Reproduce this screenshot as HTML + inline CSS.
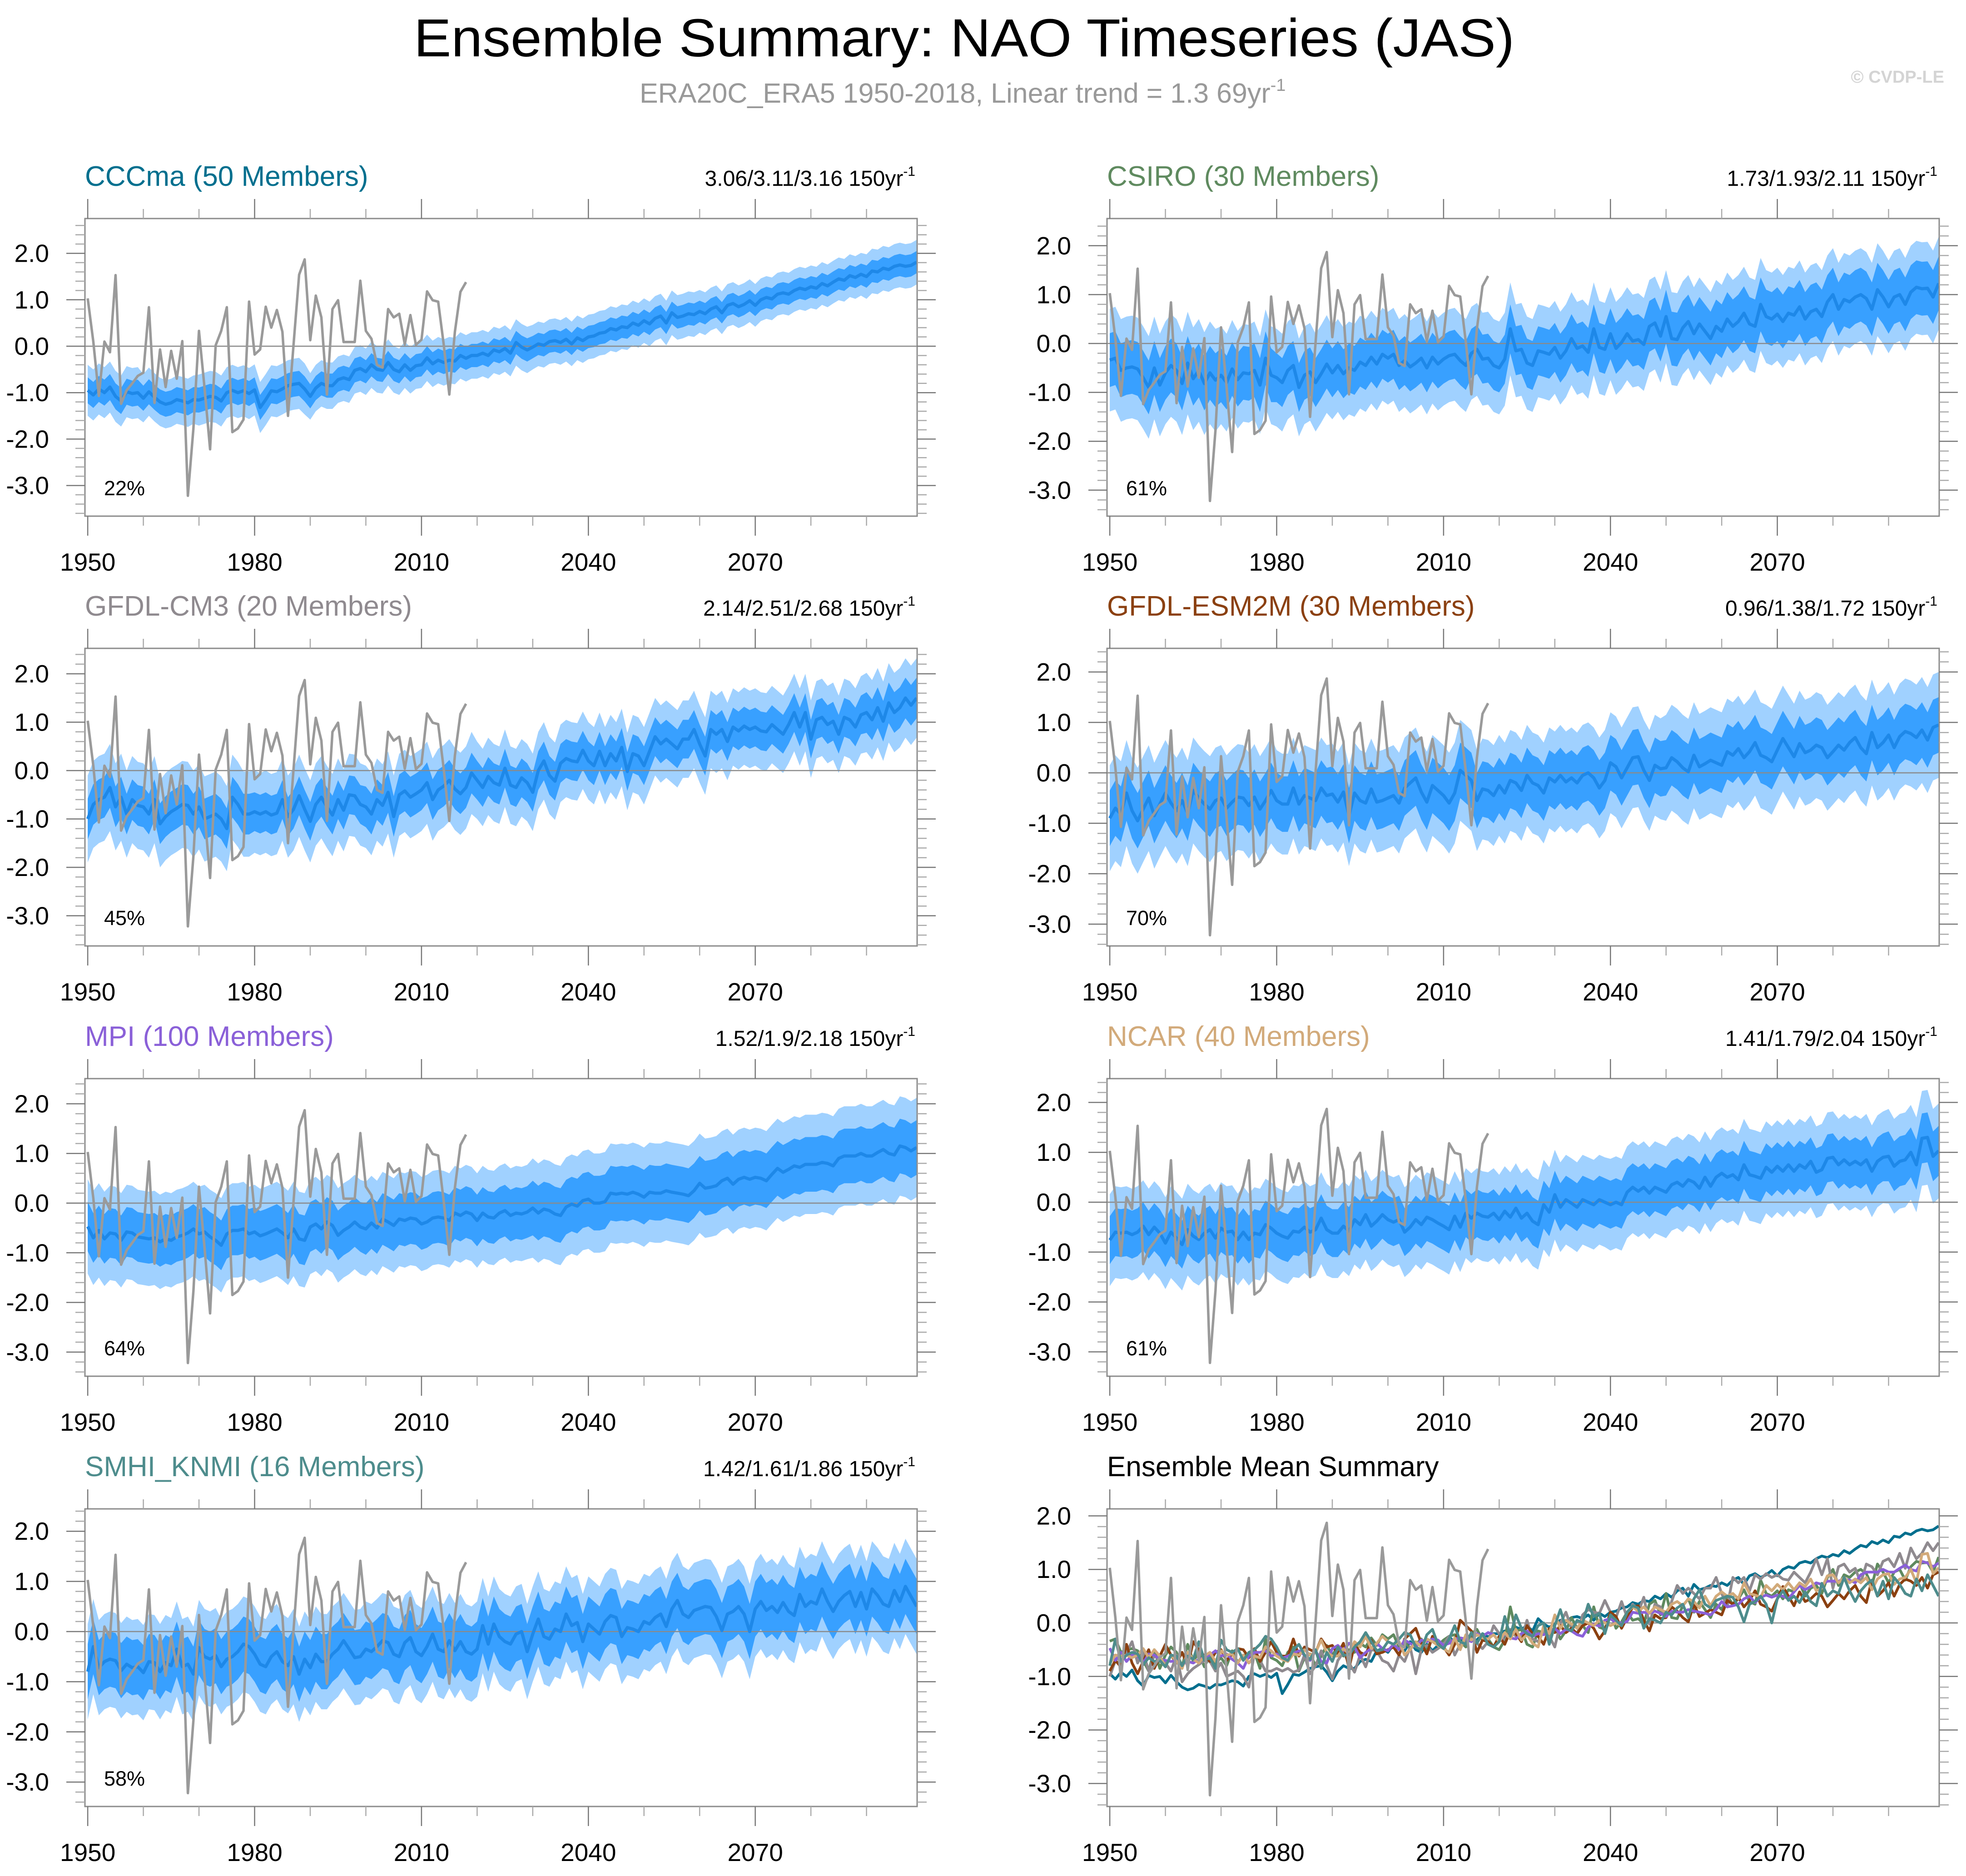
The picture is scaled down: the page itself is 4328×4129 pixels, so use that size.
<!DOCTYPE html>
<html><head><meta charset="utf-8"><title>Ensemble Summary: NAO Timeseries (JAS)</title>
<style>
html,body{margin:0;padding:0;background:#fff;}
svg{display:block;font-family:"Liberation Sans",Arial,sans-serif;}
</style></head>
<body>
<svg id="fig" xmlns="http://www.w3.org/2000/svg" width="4328" height="4129" viewBox="0 0 4328 4129">
<rect x="0" y="0" width="4328" height="4129" fill="#fff"/>
<text x="911" y="124" font-size="118" textLength="2423" lengthAdjust="spacingAndGlyphs" fill="#000">Ensemble Summary: NAO Timeseries (JAS)</text>
<text x="1408" y="226" font-size="61" fill="#999">ERA20C_ERA5 1950-2018, Linear trend = 1.3 69yr<tspan font-size="38" dy="-26">-1</tspan></text>
<text x="4280" y="182" font-size="38" font-weight="bold" fill="#d4d4d4" text-anchor="end">© CVDP-LE</text>
<g id="panels"></g>
</svg>
<script>
// ---------- DATA ----------
const obsYears0 = 1950;
const obsValues = [1.03,0.1,-1.07,0.1,-0.13,1.53,-1.24,-0.95,-0.8,-0.64,
-0.57,0.84,-1.22,-0.07,-0.88,-0.1,-0.7,0.11,-3.22,-1.77,
0.33,-0.9,-2.22,0.02,0.33,0.84,-1.85,-1.77,-1.58,0.96,
-0.18,-0.07,0.85,0.4,0.78,0.31,-1.5,0.03,1.54,1.87,
0.13,1.09,0.62,-1.04,0.8,0.99,0.09,0.09,0.09,1.41,
0.33,0.16,-0.4,-0.46,0.8,0.62,0.7,0.04,0.67,0.03,
0.14,1.18,0.99,0.96,0.03,-1.04,0.31,1.17,1.38];

const modelYear0 = 1950;
const meanCCCma = [-0.95,-1.05,-0.92,-1.0,-0.88,-1.08,-1.18,-0.98,-1.02,-1.0,
-1.12,-0.98,-1.1,-1.2,-1.25,-1.22,-1.15,-1.18,-1.22,-1.15,
-1.16,-1.12,-1.08,-1.1,-1.18,-1.0,-0.95,-1.0,-0.96,-1.02,
-0.94,-1.32,-1.15,-0.96,-0.98,-0.92,-0.85,-0.82,-0.8,-0.92,
-1.08,-0.9,-0.8,-0.85,-0.85,-0.72,-0.68,-0.72,-0.52,-0.48,
-0.55,-0.4,-0.5,-0.52,-0.35,-0.5,-0.55,-0.4,-0.52,-0.42,
-0.4,-0.25,-0.38,-0.3,-0.35,-0.3,-0.32,-0.2,-0.26,-0.2,
-0.2,-0.15,-0.2,-0.08,-0.12,-0.05,-0.15,0.08,-0.02,-0.08,
-0.02,0.05,0.02,0.1,0.12,0.08,0.15,0.05,0.18,0.12,
0.2,0.22,0.28,0.3,0.38,0.35,0.42,0.4,0.5,0.45,
0.55,0.48,0.6,0.65,0.5,0.72,0.62,0.65,0.7,0.68,
0.75,0.7,0.8,0.85,0.72,0.88,0.92,0.85,0.9,0.98,
0.88,1.0,1.05,1.02,1.12,1.15,1.12,1.2,1.25,1.22,
1.28,1.25,1.35,1.3,1.38,1.45,1.42,1.52,1.48,1.55,
1.5,1.62,1.6,1.68,1.65,1.72,1.75,1.72,1.74,1.81];
const meanCSIRO = [-0.34,-0.3,-0.55,-0.5,-0.48,-0.52,-0.7,-0.9,-0.5,-0.85,
-0.6,-0.45,-0.55,-0.82,-0.4,-0.72,-0.55,-0.82,-0.6,-0.75,
-0.65,-0.8,-0.52,-0.74,-0.6,-0.62,-0.55,-0.85,-0.3,-0.65,
-0.7,-0.8,-0.55,-0.45,-0.9,-0.65,-0.58,-0.8,-0.62,-0.42,
-0.6,-0.45,-0.62,-0.5,-0.55,-0.38,-0.45,-0.28,-0.42,-0.22,
-0.3,-0.22,-0.45,-0.35,-0.48,-0.4,-0.3,-0.5,-0.28,-0.42,
-0.32,-0.25,-0.22,-0.35,-0.45,-0.2,-0.12,-0.32,-0.3,-0.45,
-0.5,-0.32,0.3,-0.15,-0.12,-0.4,-0.45,-0.15,-0.18,-0.22,
-0.08,-0.3,-0.15,0.1,-0.1,-0.05,-0.18,0.3,-0.08,-0.12,
0.2,-0.1,0.02,0.2,0.05,0.08,-0.02,0.35,0.42,0.15,
0.55,0.1,0.08,0.32,0.45,0.2,0.4,0.25,0.1,0.35,
0.25,0.5,0.35,0.45,0.62,0.4,0.35,0.8,0.55,0.5,
0.6,0.45,0.62,0.58,0.75,0.5,0.65,0.7,0.55,0.85,
1.0,0.7,0.9,0.85,0.95,1.0,0.92,0.7,1.1,0.95,
0.75,0.95,1.0,0.8,1.05,1.15,1.12,1.13,0.95,1.23];
const meanGFDLCM3 = [-1.0,-0.7,-0.6,-0.55,-0.35,-0.75,-0.55,-0.9,-0.6,-0.72,
-0.75,-0.9,-0.6,-1.1,-0.95,-0.85,-0.78,-0.7,-0.72,-0.9,
-0.75,-1.0,-0.95,-0.9,-1.0,-1.2,-0.55,-0.7,-0.9,-0.9,
-0.85,-0.9,-0.85,-0.92,-0.88,-0.6,-0.95,-0.8,-0.52,-0.8,
-1.05,-0.7,-0.55,-0.75,-0.92,-0.6,-0.82,-0.5,-0.52,-0.7,
-0.75,-0.9,-0.6,-0.72,-0.45,-0.95,-0.5,-0.42,-0.55,-0.48,
-0.4,-0.25,-0.6,-0.4,-0.32,-0.2,-0.38,-0.48,-0.35,-0.05,
-0.2,-0.35,-0.12,-0.25,-0.3,0.05,-0.3,-0.35,-0.15,-0.25,
-0.45,0.0,0.2,-0.1,-0.22,0.15,0.25,0.2,0.18,0.42,
0.2,0.1,0.4,0.1,0.35,0.2,0.48,-0.02,0.35,0.3,
0.1,0.4,0.7,0.55,0.65,0.55,0.45,0.65,0.65,0.85,
0.55,0.3,0.85,0.75,0.85,0.6,0.9,0.82,0.92,0.85,
0.9,0.82,0.8,0.95,0.85,0.75,0.95,1.2,0.9,1.2,
0.65,1.05,1.1,0.95,1.02,0.75,1.1,1.05,0.9,1.15,
1.2,1.05,1.3,1.02,1.4,1.2,1.3,1.5,1.35,1.5];
const meanGFDLESM2M = [-0.9,-0.7,-0.82,-0.4,-0.75,-0.95,-0.72,-0.5,-0.85,-0.62,
-0.4,-0.6,-0.75,-0.55,-0.8,-0.35,-0.5,-0.62,-0.72,-0.55,
-0.5,-0.7,-0.58,-0.48,-0.5,-0.65,-0.48,-0.72,-0.55,-0.35,
-0.55,-0.62,-0.62,-0.3,-0.62,-0.45,-0.5,-0.55,-0.3,-0.45,
-0.42,-0.58,-0.38,-0.85,-0.4,-0.55,-0.6,-0.32,-0.58,-0.55,
-0.5,-0.45,-0.6,-0.3,-0.2,-0.1,-0.38,-0.58,-0.25,-0.35,
-0.45,-0.6,-0.4,0.05,-0.05,-0.15,-0.55,-0.32,-0.35,-0.45,
-0.25,-0.4,-0.15,-0.2,-0.35,-0.05,-0.2,-0.25,-0.4,-0.1,
-0.18,-0.05,-0.18,-0.1,-0.2,-0.05,0.0,-0.1,-0.3,-0.15,
0.2,0.12,-0.1,0.1,0.3,0.32,0.05,-0.15,0.15,0.08,
0.1,0.3,0.22,0.1,0.02,0.35,0.12,0.18,0.25,0.2,
0.15,0.42,0.35,0.48,0.3,0.42,0.6,0.35,0.3,0.22,
0.45,0.68,0.5,0.32,0.58,0.4,0.45,0.55,0.5,0.3,
0.42,0.55,0.45,0.6,0.7,0.5,0.38,0.8,0.5,0.6,
0.75,0.5,0.72,0.82,0.78,0.7,0.85,0.65,0.9,0.95];
const meanMPI = [-0.47,-0.7,-0.55,-0.72,-0.6,-0.62,-0.75,-0.58,-0.6,-0.68,
-0.7,-0.72,-0.7,-0.78,-0.72,-0.75,-0.68,-0.65,-0.6,-0.52,
-0.62,-0.58,-0.68,-0.75,-0.85,-0.62,-0.55,-0.55,-0.52,-0.62,
-0.58,-0.66,-0.62,-0.57,-0.52,-0.6,-0.7,-0.52,-0.72,-0.75,
-0.48,-0.42,-0.52,-0.38,-0.45,-0.65,-0.55,-0.48,-0.38,-0.48,
-0.52,-0.4,-0.5,-0.32,-0.38,-0.45,-0.32,-0.35,-0.3,-0.32,
-0.42,-0.38,-0.3,-0.28,-0.3,-0.35,-0.2,-0.25,-0.18,-0.22,
-0.35,-0.2,-0.28,-0.3,-0.2,-0.15,-0.25,-0.2,-0.22,-0.18,
-0.1,-0.2,-0.12,-0.15,-0.22,-0.25,-0.08,-0.02,-0.06,0.05,
0.08,0.0,0.0,0.03,0.2,0.18,0.2,0.18,0.22,0.18,
0.12,0.22,0.2,0.2,0.25,0.22,0.2,0.18,0.15,0.25,
0.4,0.3,0.32,0.35,0.45,0.5,0.38,0.48,0.52,0.48,
0.52,0.5,0.45,0.58,0.7,0.62,0.68,0.75,0.72,0.78,
0.78,0.78,0.82,0.8,0.75,0.9,0.95,0.95,0.95,1.0,
0.95,0.95,1.02,1.08,1.0,0.97,1.15,1.12,1.05,1.12];
const meanNCAR = [-0.76,-0.6,-0.62,-0.6,-0.65,-0.6,-0.48,-0.65,-0.5,-0.62,
-0.82,-0.6,-0.72,-0.85,-0.55,-0.68,-0.75,-0.62,-0.55,-0.72,
-0.52,-0.6,-0.58,-0.75,-0.6,-0.75,-0.62,-0.65,-0.45,-0.52,
-0.62,-0.68,-0.72,-0.58,-0.6,-0.5,-0.6,-0.55,-0.32,-0.55,
-0.62,-0.62,-0.48,-0.58,-0.35,-0.45,-0.25,-0.48,-0.38,-0.25,
-0.35,-0.4,-0.35,-0.6,-0.5,-0.35,-0.45,-0.3,-0.35,-0.42,
-0.48,-0.55,-0.28,-0.5,-0.22,-0.32,-0.22,-0.28,-0.3,-0.22,
-0.35,-0.18,-0.3,-0.12,-0.32,-0.22,-0.38,-0.45,-0.05,-0.2,
0.15,-0.1,0.05,-0.02,-0.1,0.05,0.0,-0.05,0.05,0.0,
-0.05,0.0,-0.05,0.2,0.3,0.22,0.3,0.18,0.3,0.25,
0.2,0.35,0.4,0.32,0.45,0.4,0.28,0.5,0.32,0.5,
0.58,0.5,0.55,0.45,0.75,0.55,0.52,0.48,0.7,0.6,
0.72,0.62,0.75,0.62,0.75,0.68,0.82,0.6,0.65,0.88,
0.9,0.75,0.85,0.75,0.82,0.75,0.85,0.62,0.82,0.9,
0.92,0.72,0.82,0.85,1.0,0.75,1.28,1.3,0.92,1.03];
const meanSMHI = [-0.8,-0.3,-0.72,-0.6,-0.55,-0.58,-0.78,-0.65,-0.72,-0.7,
-0.82,-0.6,-0.62,-0.8,-0.62,-0.68,-0.35,-0.7,-0.65,-0.85,
-0.32,-0.5,-0.55,-0.48,-0.7,-0.55,-0.5,-0.4,-0.25,-0.3,
-0.45,-0.65,-0.7,-0.5,-0.4,-0.6,-0.68,-0.5,-0.85,-0.55,
-0.72,-0.45,-0.6,-0.6,-0.45,-0.35,-0.18,-0.35,-0.52,-0.5,
-0.35,-0.4,-0.3,-0.18,-0.22,-0.45,-0.5,-0.22,-0.12,-0.4,
-0.48,-0.3,-0.05,-0.35,-0.4,-0.18,-0.38,-0.2,-0.4,-0.45,
-0.35,0.12,-0.25,0.15,-0.1,-0.2,-0.25,-0.05,0.0,-0.4,
-0.05,0.25,-0.1,-0.15,0.05,0.0,0.35,0.12,0.18,-0.2,
0.15,0.05,-0.05,0.2,0.32,0.28,-0.1,0.08,0.05,0.0,
0.2,0.15,0.28,0.35,0.1,0.45,0.62,0.35,0.28,0.42,
0.46,0.5,0.48,0.3,0.02,0.35,0.4,0.5,0.35,0.0,
0.45,0.6,0.42,0.5,0.38,0.58,0.4,0.32,0.74,0.5,
0.6,0.55,0.85,0.6,0.4,0.6,0.72,0.8,0.5,0.78,
0.45,0.85,0.72,0.55,0.5,0.82,0.6,0.9,0.7,0.5];

// ensemble spread half-widths per decade (1950s .. 2090s)
const innerCCCma = [0.28,0.27,0.27,0.27,0.26,0.25,0.25,0.25,0.24,0.24,0.24,0.23,0.23,0.23,0.24];
const outerCCCma = [0.55,0.52,0.55,0.55,0.5,0.5,0.5,0.5,0.48,0.48,0.48,0.46,0.46,0.46,0.48];
const innerCSIRO = [0.55,0.55,0.55,0.5,0.5,0.5,0.5,0.5,0.5,0.52,0.55,0.55,0.55,0.55,0.55];
const outerCSIRO = [1.05,1.05,1.0,1.0,0.95,0.95,0.95,0.95,0.95,0.95,0.95,0.95,0.95,0.95,0.95];
const innerGFDLCM3 = [0.42,0.42,0.42,0.4,0.4,0.42,0.42,0.4,0.4,0.4,0.4,0.4,0.4,0.4,0.42];
const outerGFDLCM3 = [0.9,0.9,0.88,0.85,0.85,0.85,0.85,0.8,0.8,0.8,0.8,0.8,0.8,0.8,0.82];
const innerGFDLESM2M = [0.55,0.55,0.55,0.55,0.55,0.55,0.55,0.55,0.55,0.55,0.55,0.55,0.55,0.55,0.55];
const outerGFDLESM2M = [1.05,1.05,1.05,1.0,1.0,1.0,1.0,1.0,1.0,1.0,1.05,1.05,1.05,1.05,1.05];
const innerMPI = [0.5,0.5,0.5,0.5,0.5,0.52,0.52,0.52,0.55,0.55,0.55,0.55,0.55,0.55,0.55];
const outerMPI = [0.95,0.95,0.95,0.95,0.95,0.95,0.95,0.95,1.0,1.0,1.0,1.0,1.0,1.0,1.0];
const innerNCAR = [0.48,0.48,0.48,0.48,0.48,0.48,0.48,0.48,0.48,0.48,0.48,0.48,0.48,0.48,0.5];
const outerNCAR = [0.92,0.92,0.92,0.92,0.9,0.9,0.9,0.9,0.9,0.92,0.92,0.92,0.92,0.92,0.95];
const innerSMHI = [0.55,0.55,0.55,0.55,0.55,0.55,0.55,0.55,0.55,0.55,0.55,0.55,0.55,0.55,0.55];
const outerSMHI = [0.95,0.95,0.95,0.95,0.95,0.95,0.95,0.95,0.95,0.95,0.95,0.95,0.95,0.95,0.95];

const modelNames = ["CCCma (50 Members)","CSIRO (30 Members)","GFDL-CM3 (20 Members)","GFDL-ESM2M (30 Members)","MPI (100 Members)","NCAR (40 Members)","SMHI_KNMI (16 Members)"];
const trendLabels = ["3.06/3.11/3.16 150yr","1.73/1.93/2.11 150yr","2.14/2.51/2.68 150yr","0.96/1.38/1.72 150yr","1.52/1.9/2.18 150yr","1.41/1.79/2.04 150yr","1.42/1.61/1.86 150yr"];
const pctLabels = ["22%","61%","45%","70%","64%","61%","58%"];
const xTickYears = [1950,1980,2010,2040,2070];
const xTickLabels = ["1950","1980","2010","2040","2070"];
const yTickValues = [2,1,0,-1,-2,-3];
const yTickLabels = ["2.0","1.0","0.0","-1.0","-2.0","-3.0"];

// ---------- LAYOUT ----------
const modelMeans = [meanCCCma,meanCSIRO,meanGFDLCM3,meanGFDLESM2M,meanMPI,meanNCAR,meanSMHI];
const modelInner = [innerCCCma,innerCSIRO,innerGFDLCM3,innerGFDLESM2M,innerMPI,innerNCAR,innerSMHI];
const modelOuter = [outerCCCma,outerCSIRO,outerGFDLCM3,outerGFDLESM2M,outerMPI,outerNCAR,outerSMHI];
const modelColors = ["#006f8e","#5f8a5f","#8f8a8f","#8b4010","#8a60d8","#d2aa7a","#4d8c8c"];
const slugs = ["cccma","csiro","gfdl-cm3","gfdl-esm2m","mpi","ncar","smhi-knmi"];
const colLeft = [187,2437];
const boxW = 1832;
const rowTop = [481,1427,2374,3321];
const boxH = 655;
const zeroY = [762,756,1696,1701,2648,2646,3591,3572];
const unitPx = [102.2,107.6,106.5,111,109.3,109.8,110.4,117.8];
const XMIN = 1949.5, XMAX = 2099.1;
const NS = "http://www.w3.org/2000/svg";
const root = document.getElementById('panels');

function mk(tag, attrs, parent){
  const e = document.createElementNS(NS, tag);
  for (const k in attrs) e.setAttribute(k, attrs[k]);
  (parent||root).appendChild(e);
  return e;
}

function drawPanel(i){
  const col = i % 2, row = Math.floor(i/2);
  const L = colLeft[col], T = rowTop[row], R = L + boxW, B = T + boxH;
  const z0 = zeroY[i], u = unitPx[i];
  const xs = yr => L + (yr - XMIN) / (XMAX - XMIN) * boxW;
  const ys = v => z0 - v * u;
  const isSummary = (i === 7);
  const g = mk('g', {});
  
  

  const clipId = 'clip' + i;
  const cp = mk('clipPath', {id: clipId}, g);
  mk('rect', {x: L, y: T, width: boxW, height: boxH}, cp);
  const plot = mk('g', {'clip-path': 'url(#' + clipId + ')'}, g);
  
  

  const title = mk('text', {x: L, y: T - 72, 'font-size': 62, fill: isSummary ? '#000' : modelColors[i]}, g);
  title.textContent = isSummary ? 'Ensemble Mean Summary' : modelNames[i];
  
  

  if (!isSummary){
    const tr = mk('text', {x: R - 4, y: T - 72, 'font-size': 48, fill: '#000', 'text-anchor': 'end'}, g);
    tr.textContent = trendLabels[i];
    const sup = document.createElementNS(NS, 'tspan');
    sup.setAttribute('font-size', '30'); sup.setAttribute('dy', '-22');
    sup.textContent = '-1';
    tr.appendChild(sup);
    
    

    const mean = modelMeans[i], inn = modelInner[i], out = modelOuter[i];
    const band = (half, color, nm) => {
      let up = [], lo = [];
      for (let k = 0; k < mean.length; k++){
        const yr = modelYear0 + k, d = Math.floor(k/10);
        up.push(xs(yr).toFixed(1) + ',' + ys(mean[k] + half[d]).toFixed(1));
        lo.push(xs(yr).toFixed(1) + ',' + ys(mean[k] - half[d]).toFixed(1));
      }
      const p = mk('polygon', {points: up.concat(lo.reverse()).join(' '), fill: color}, plot);
      
      
    };
    band(out, '#a0d1ff', 'outer-spread-band');
    band(inn, '#38a0ff', 'inner-spread-band');
  }
  const zl = mk('line', {x1: L, x2: R, y1: ys(0), y2: ys(0), stroke: '#8a8a8a', 'stroke-width': 2.5}, plot);
  
  

  const lineFor = (arr, y0) => arr.map((v,k) => xs(y0 + k).toFixed(1) + ',' + ys(v).toFixed(1)).join(' ');
  if (!isSummary){
    const ml = mk('polyline', {points: lineFor(modelMeans[i], modelYear0), fill: 'none', stroke: '#1e88e8', 'stroke-width': 7, 'stroke-linejoin': 'round'}, plot);
    
    
  } else {
    for (let m = 0; m < modelMeans.length; m++){
      const sl = mk('polyline', {points: lineFor(modelMeans[m], modelYear0), fill: 'none', stroke: modelColors[m], 'stroke-width': 6, 'stroke-linejoin': 'round'}, plot);
      
      
    }
  }
  const ol = mk('polyline', {points: lineFor(obsValues, obsYears0), fill: 'none', stroke: '#9a9a9a', 'stroke-width': 5.5, 'stroke-linejoin': 'round'}, plot);
  
  

  const bx = mk('rect', {x: L, y: T, width: boxW, height: boxH, fill: 'none', stroke: '#8c8c8c', 'stroke-width': 3}, g);
  
  

  for (let yr = 1950; yr <= 2099; yr += 10){
    const major = ((yr - 1950) % 30 === 0);
    const len = major ? 43 : 21, x = xs(yr);
    const t1 = mk('line', {x1: x, x2: x, y1: T, y2: T - len, stroke: major ? '#777' : '#aaa', 'stroke-width': 2.5}, g);
    
    
    const t2 = mk('line', {x1: x, x2: x, y1: B, y2: B + len, stroke: major ? '#777' : '#aaa', 'stroke-width': 2.5}, g);
    
    
  }
  xTickYears.forEach((yr, k) => {
    const tl = mk('text', {x: xs(yr), y: B + 120, 'font-size': 55, 'text-anchor': 'middle', fill: '#000'}, g);
    tl.textContent = xTickLabels[k];
    
    
  });
  const vTop = (z0 - T) / u, vBot = -(B - z0) / u;
  for (let n = Math.ceil(vBot * 5); n <= Math.floor(vTop * 5); n++){
    const v = n / 5, y = ys(v), major = (n % 5 === 0);
    const len = major ? 41 : 21;
    const a = mk('line', {x1: L, x2: L - len, y1: y, y2: y, stroke: major ? '#777' : '#aaa', 'stroke-width': 2.5}, g);
    
    
    const b = mk('line', {x1: R, x2: R + len, y1: y, y2: y, stroke: major ? '#777' : '#aaa', 'stroke-width': 2.5}, g);
    
    
  }
  yTickValues.forEach((v, k) => {
    const tl = mk('text', {x: L - 79, y: ys(v) + 19, 'font-size': 55, 'text-anchor': 'end', fill: '#000'}, g);
    tl.textContent = yTickLabels[k];
    
    
  });
  if (!isSummary){
    const pc = mk('text', {x: L + 42, y: B - 46, 'font-size': 45, fill: '#000'}, g);
    pc.textContent = pctLabels[i];
    
    
  }
}
for (let i = 0; i < 8; i++) drawPanel(i);
</script>
</body></html>
